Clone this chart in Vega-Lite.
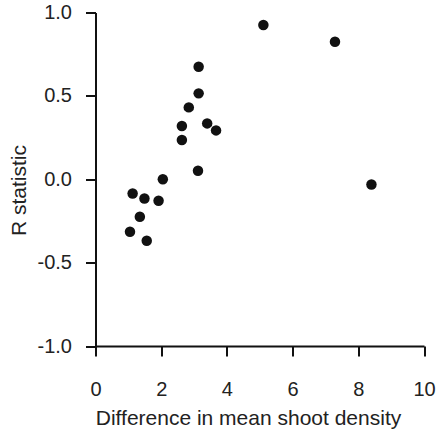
{
  "$schema": "https://vega.github.io/schema/vega-lite/v6.json",
  "width": 328.5,
  "height": 333.5,
  "autosize": "none",
  "padding": {"left": 95.5, "top": 12.5, "right": 12, "bottom": 86},
  "config": {"view": {"stroke": null}, "font": "Liberation Sans"},
  "data": {
    "values": [
      {"diff": 3.14, "r": 0.675},
      {"diff": 3.14, "r": 0.515},
      {"diff": 2.84, "r": 0.431},
      {"diff": 2.63, "r": 0.319},
      {"diff": 2.63, "r": 0.235},
      {"diff": 3.40, "r": 0.335},
      {"diff": 3.67, "r": 0.293},
      {"diff": 3.12, "r": 0.051},
      {"diff": 2.05, "r": 0.0},
      {"diff": 1.13, "r": -0.085},
      {"diff": 1.49, "r": -0.115},
      {"diff": 1.92, "r": -0.129},
      {"diff": 1.35, "r": -0.225},
      {"diff": 1.05, "r": -0.315},
      {"diff": 1.56, "r": -0.369},
      {"diff": 5.11, "r": 0.925},
      {"diff": 7.29, "r": 0.825},
      {"diff": 8.40, "r": -0.031}
    ]
  },
  "mark": {"type": "circle", "size": 110, "color": "#111", "opacity": 1},
  "encoding": {
    "x": {
      "field": "diff",
      "type": "quantitative",
      "scale": {"domain": [0, 10], "nice": false, "zero": false},
      "axis": {
        "values": [0, 2, 4, 6, 8, 10],
        "title": "Difference in mean shoot density",
        "grid": false,
        "domainColor": "#111",
        "domainWidth": 2,
        "tickColor": "#111",
        "tickWidth": 2,
        "tickSize": 10,
        "labelFontSize": 20,
        "labelPadding": 23,
        "labelColor": "#222",
        "labelFlush": false,
        "labelOverlap": false,
        "titleFontSize": 21,
        "titleFontWeight": "normal",
        "titleColor": "#222",
        "titleBaseline": "alphabetic",
        "titleAlign": "center",
        "titleX": 152.5,
        "titleY": 78
      }
    },
    "y": {
      "field": "r",
      "type": "quantitative",
      "scale": {"domain": [-1, 1], "nice": false, "zero": false},
      "axis": {
        "values": [-1, -0.5, 0, 0.5, 1],
        "format": ".1f",
        "labelExpr": "replace(datum.label, '\u2212', '-')",
        "title": "R statistic",
        "grid": false,
        "domainColor": "#111",
        "domainWidth": 2,
        "tickColor": "#111",
        "tickWidth": 2,
        "tickSize": 10,
        "labelFontSize": 20,
        "labelPadding": 14,
        "labelColor": "#222",
        "labelFlush": false,
        "labelOverlap": false,
        "titleFontSize": 21,
        "titleFontWeight": "normal",
        "titleColor": "#222",
        "titleBaseline": "alphabetic",
        "titleAlign": "center",
        "titleX": -70.5,
        "titleY": 177.5
      }
    }
  }
}
